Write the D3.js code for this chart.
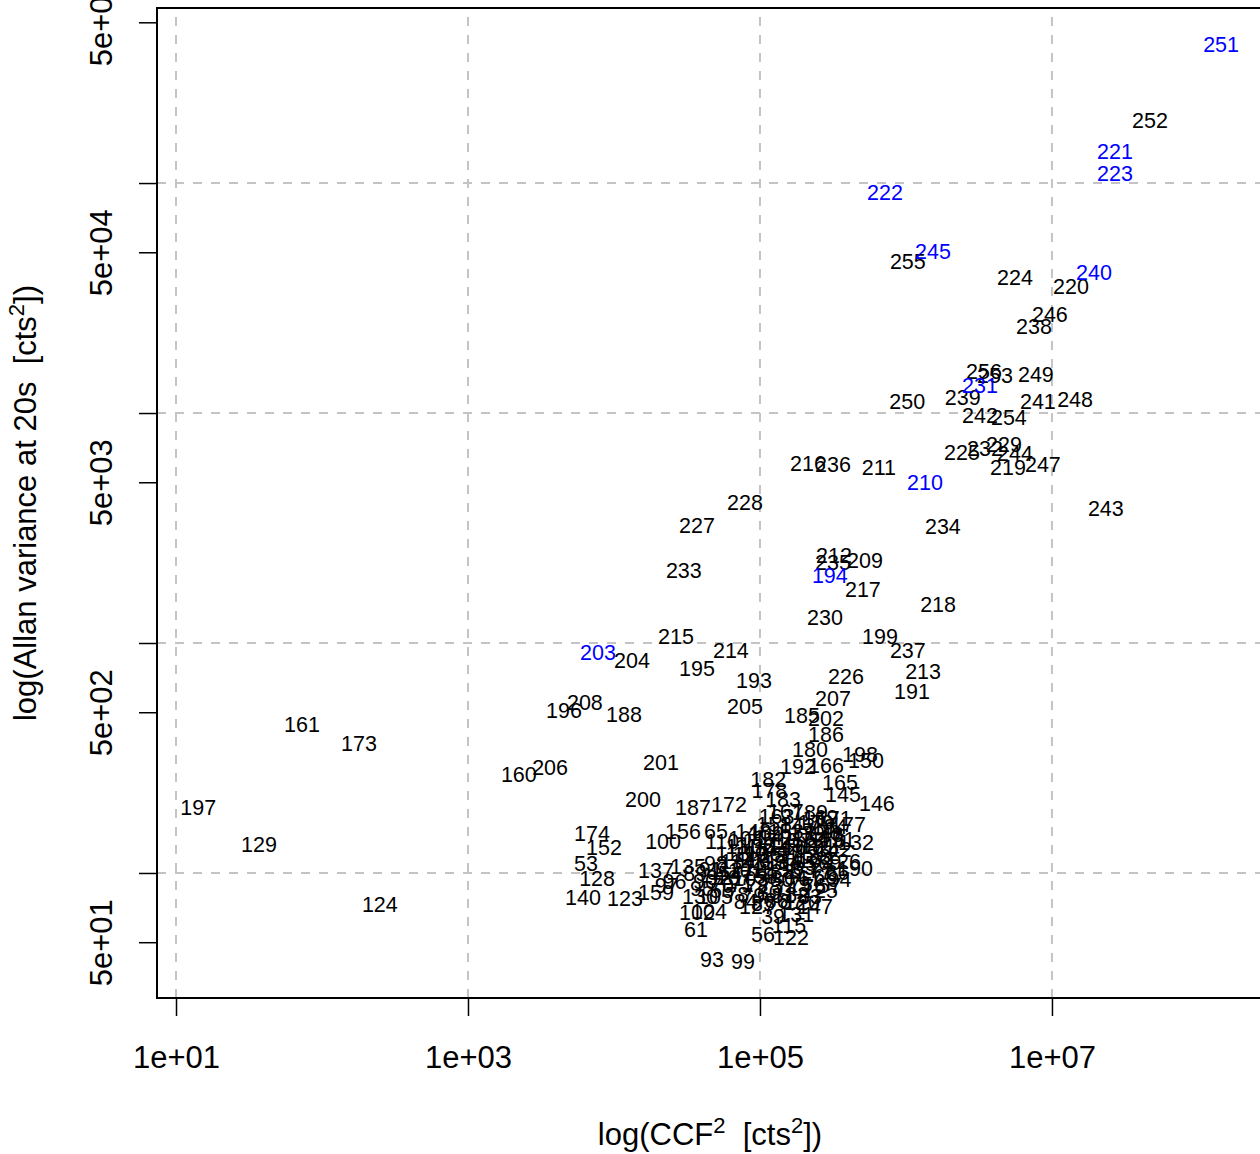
<!DOCTYPE html>
<html>
<head>
<meta charset="utf-8">
<script src="https://cdn.jsdelivr.net/npm/d3@7"></script>
<style>
  html, body { margin: 0; padding: 0; background: #fff; }
  svg { display: block; font-family: "Liberation Sans", Arial, Helvetica, sans-serif; }
  text { white-space: pre; }
</style>
</head>
<body>
<script>
// Sample ids with their squared cross-correlation (CCF^2) and Allan variance at 20 s
const ids = [
  251,221,223,222,245,240,231,210,194,203,
  252,255,224,220,246,238,256,253,249,250,
  239,241,248,242,254,225,232,229,244,219,
  247,211,216,236,228,227,234,243,212,235,
  209,233,217,218,230,215,199,237,214,204,
  195,213,226,193,191,207,196,208,188,205,
  185,202,186,161,173,180,198,150,192,166,
  160,206,201,182,165,178,145,183,146,200,
  187,172,197,177,174,152,100,156,65,110,
  132,129,53,137,135,126,190,128,140,123,
  159,124,61,93,99,56,122,102,104,130,
  105,147,115,39,131,125,120,127,
  167,189,163,169,171,158,143,179,184,148,
  109,153,139,170,43,108,117,141,157,164,
  176,151,111,106,144,149,168,181,142,113,
  119,136,154,175,138,62,114,116,118,134,
  155,162,69,112,101,121,133,58,63,77,
  66,107,103,59,60,64,67,68,94,70,
  71,72,73,74,75,76,57,78,79,80,
  81,82,83,84,85,86,87,89,90,91,
  92,95,96,97,98,54,55
];

const ccf2 = [
  1.44e8,2.70e7,2.70e7,7.18e5,1.53e6,1.94e7,3.21e6,1.35e6,3.01e5,7.77e3,
  4.69e7,1.03e6,5.58e6,1.35e7,9.68e6,7.53e6,3.42e6,4.07e6,7.76e6,1.02e6,
  2.45e6,8.01e6,1.44e7,3.21e6,5.07e6,2.42e6,3.48e6,4.69e6,5.58e6,5.00e6,
  8.67e6,6.53e5,2.13e5,3.16e5,7.89e4,3.70e4,1.79e6,2.34e7,3.21e5,3.16e5,
  5.24e5,3.01e4,5.07e5,1.66e6,2.79e5,2.66e4,6.64e5,1.03e6,6.32e4,1.33e4,
  3.70e4,1.31e6,3.88e5,9.10e4,1.10e6,3.16e5,4.55e3,6.32e3,1.17e4,7.89e4,
  1.94e5,2.83e5,2.83e5,72.9,179,2.20e5,4.84e5,5.32e5,1.82e5,2.83e5,
  2.23e3,3.65e3,2.10e4,1.14e5,3.53e5,1.16e5,3.70e5,1.44e5,6.32e5,1.58e4,
  3.48e4,6.14e4,14.2,4.01e5,7.06e3,8.55e3,2.17e4,2.97e4,5.00e4,5.50e4,
  4.55e5,37.0,6.43e3,1.94e4,3.21e4,3.70e5,4.48e5,7.66e3,6.14e3,1.19e4,
  1.94e4,249,3.65e4,4.69e4,7.66e4,1.05e5,1.63e5,3.70e4,4.48e4,3.88e4,
  4.92e4,2.38e5,1.58e5,1.23e5,1.77e5,2.58e5,1.94e5,9.53e4,
  1.5e5,2.2e5,1.3e5,2.6e5,3.2e5,1.25e5,1.8e5,2.4e5,3.0e5,9.0e4,
  1.1e5,1.5e5,2.1e5,2.7e5,3.1e5,8.0e4,1.0e5,1.3e5,1.7e5,2.2e5,
  2.9e5,3.4e5,7.5e4,9.5e4,1.2e5,1.5e5,1.9e5,2.5e5,3.2e5,6.5e4,
  8.5e4,1.05e5,1.35e5,1.75e5,2.3e5,2.9e5,7.0e4,9.0e4,1.15e5,1.45e5,
  1.85e5,2.4e5,3.0e5,5.8e4,8.0e4,1.0e5,1.3e5,1.6e5,2.0e5,2.6e5,
  3.4e5,6.6e4,8.6e4,1.1e5,1.4e5,1.75e5,2.2e5,2.8e5,3.5e5,5.5e4,
  7.5e4,9.5e4,1.2e5,1.5e5,1.9e5,2.35e5,3.0e5,7.0e4,9.0e4,1.15e5,
  1.45e5,1.8e5,2.2e5,8.0e4,1.05e5,1.3e5,1.65e5,3.6e4,4.2e4,4.6e4,
  5.2e4,4.0e4,2.6e4,2.3e4,5.0e4,6.2e4,5.5e4
];

const allanVar = [
  4.0e5,1.37e5,1.10e5,9.12e4,5.05e4,4.09e4,1.32e4,5.0e3,1.97e3,912,
  1.87e5,4.57e4,3.89e4,3.56e4,2.69e4,2.38e4,1.52e4,1.46e4,1.47e4,1.12e4,
  1.17e4,1.12e4,1.15e4,9.77e3,9.59e3,6.75e3,7.03e3,7.31e3,6.68e3,5.81e3,
  5.98e3,5.81e3,6.05e3,5.98e3,4.09e3,3.25e3,3.22e3,3.85e3,2.41e3,2.24e3,
  2.29e3,2.07e3,1.71e3,1.47e3,1.29e3,1.07e3,1.07e3,930,930,841,
  777,754,717,689,617,575,510,552,490,531,
  485,471,401,444,366,345,328,309,291,293,
  269,288,303,256,248,229,220,209,201,209,
  193,199,193,163,149,129,137,152,152,137,
  136,133,110,103,107,112,105,94.8,78.5,77.6,
  82.4,73.1,57.0,42.2,41.3,54.2,52.6,67.5,68.2,79.3,
  79.3,71.8,59.3,64.9,66.2,84.1,74.6,71.8,
  185,184,176,174,172,163,161,165,160,151,
  148,152,149,150,147,141,139,142,138,141,
  139,140,130,131,128,132,129,131,127,121,
  120,122,119,121,118,122,112,113,111,112,
  110,113,111,104,103,105,102,104,106,103,
  101,96,95,97,94,96,95,97,94,88,
  89,87,88,86,89,87,88,81,80,82,
  80,81,79,75,74,76,75,100,92,104,
  96,86,92,88,110,100,84
];

// Samples drawn in blue
const highlightIds = [251,221,223,222,245,240,231,210,194,203];

// Axis ticks
const xTicks = [1e1, 1e3, 1e5, 1e7];
const xTickLabels = ["1e+01", "1e+03", "1e+05", "1e+07"];
const yTicks = [50, 100, 500, 1e3, 5e3, 1e4, 5e4, 1e5, 5e5];
const yTickLabels = ["5e+01", "", "5e+02", "", "5e+03", "", "5e+04", "", "5e+05"];
const xGrid = [1e1, 1e3, 1e5, 1e7];
const yGrid = [1e2, 1e3, 1e4, 1e5];

const W = 1260, H = 1154;
const plot = { left: 157, top: 8, right: 1263, bottom: 998 };

const x = d3.scaleLog().domain([7.41, 2.79e8]).range([plot.left, plot.right]);
const y = d3.scaleLog().domain([28.6, 5.77e5]).range([plot.bottom, plot.top]);

const svg = d3.select("body").append("svg")
  .attr("width", W).attr("height", H);

svg.append("rect").attr("width", W).attr("height", H).attr("fill", "#fff");

svg.append("defs").append("clipPath").attr("id", "plot-clip")
  .append("rect")
  .attr("x", plot.left).attr("y", plot.top)
  .attr("width", plot.right - plot.left).attr("height", plot.bottom - plot.top);

// Dashed grid
const grid = svg.append("g").attr("clip-path", "url(#plot-clip)")
  .attr("stroke", "#c4c4c4").attr("stroke-width", 2).attr("stroke-dasharray", "9,9");
grid.selectAll("line.vx").data(xGrid).join("line")
  .attr("x1", d => x(d)).attr("x2", d => x(d))
  .attr("y1", plot.bottom).attr("y2", plot.top);
grid.selectAll("line.hy").data(yGrid).join("line")
  .attr("y1", d => y(d)).attr("y2", d => y(d))
  .attr("x1", plot.left).attr("x2", plot.right);

// Labels at each sample position
const points = ids.map((id, i) => ({ id, cx: ccf2[i], av: allanVar[i], hi: highlightIds.includes(id) }));
const labels = svg.append("g").attr("clip-path", "url(#plot-clip)")
  .attr("font-size", 21.5).attr("text-anchor", "middle");
labels.selectAll("text")
  .data(points.filter(p => !p.hi).concat(points.filter(p => p.hi)))
  .join("text")
  .attr("x", d => x(d.cx))
  .attr("y", d => y(d.av))
  .attr("dy", "0.35em")
  .attr("fill", d => d.hi ? "#0000ff" : "#000")
  .text(d => d.id);

// Plot frame
svg.append("rect")
  .attr("x", plot.left).attr("y", plot.top)
  .attr("width", plot.right - plot.left).attr("height", plot.bottom - plot.top)
  .attr("fill", "none").attr("stroke", "#000").attr("stroke-width", 2);

// Bottom axis
const gx = svg.append("g").attr("transform", `translate(0,${plot.bottom})`)
  .call(d3.axisBottom(x).tickValues(xTicks).tickFormat((d, i) => xTickLabels[i]).tickSize(18));
gx.select(".domain").remove();
gx.selectAll(".tick line").attr("stroke", "#000").attr("stroke-width", 1.5);
gx.selectAll(".tick text")
  .attr("y", 59).attr("dy", "0.35em")
  .attr("font-size", 31).attr("fill", "#000")
  .attr("font-family", "Liberation Sans, Arial, sans-serif");

// Left axis with rotated labels
const gy = svg.append("g").attr("transform", `translate(${plot.left},0)`)
  .call(d3.axisLeft(y).tickValues(yTicks).tickFormat((d, i) => yTickLabels[i]).tickSize(18));
gy.select(".domain").remove();
gy.selectAll(".tick line").attr("stroke", "#000").attr("stroke-width", 1.5);
gy.selectAll(".tick text")
  .attr("x", null).attr("dy", "0.35em")
  .attr("transform", "translate(-56,0) rotate(-90)")
  .attr("text-anchor", "middle")
  .attr("font-size", 31).attr("fill", "#000")
  .attr("font-family", "Liberation Sans, Arial, sans-serif");

// Axis titles
const xt = svg.append("text")
  .attr("x", (plot.left + plot.right) / 2).attr("y", 1145)
  .attr("text-anchor", "middle").attr("font-size", 31);
xt.append("tspan").text("log(CCF");
xt.append("tspan").attr("dy", -12).attr("font-size", 22).text("2");
xt.append("tspan").attr("dy", 12).text("  [cts");
xt.append("tspan").attr("dy", -12).attr("font-size", 22).text("2");
xt.append("tspan").attr("dy", 12).text("])");

const yt = svg.append("text")
  .attr("transform", `translate(36,${(plot.top + plot.bottom) / 2}) rotate(-90)`)
  .attr("text-anchor", "middle").attr("font-size", 31);
yt.append("tspan").text("log(Allan variance at 20s  [cts");
yt.append("tspan").attr("dy", -12).attr("font-size", 22).text("2");
yt.append("tspan").attr("dy", 12).text("])");
</script>
</body>
</html>
